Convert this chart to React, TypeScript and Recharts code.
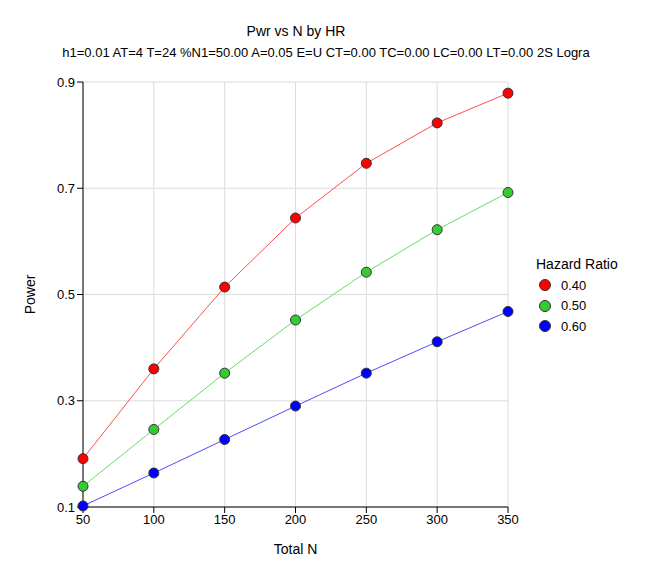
import {
  LineChart,
  Line,
  XAxis,
  YAxis,
  CartesianGrid,
  Legend,
  Label,
} from "recharts";

// #region Power data
const totalN = [50, 100, 150, 200, 250, 300, 350];
const hr040 = [0.191, 0.36, 0.514, 0.644, 0.747, 0.823, 0.879];
const hr050 = [0.139, 0.246, 0.352, 0.452, 0.542, 0.622, 0.692];
const hr060 = [0.102, 0.164, 0.227, 0.29, 0.352, 0.411, 0.468];
const xTicks = [50, 100, 150, 200, 250, 300, 350];
const yTicks = [0.1, 0.3, 0.5, 0.7, 0.9];
// #endregion

const data = totalN.map((n, i) => ({
  n,
  "0.40": hr040[i],
  "0.50": hr050[i],
  "0.60": hr060[i],
}));

const series = [
  { key: "0.40", line: "#ff4d4d", fill: "#ff0000" },
  { key: "0.50", line: "#66dd66", fill: "#33cc33" },
  { key: "0.60", line: "#4d4dff", fill: "#0000ff" },
];

const font = "Arial, 'Liberation Sans', sans-serif";

const renderLegend = () => (
  <div style={{ fontFamily: font, color: "#000" }}>
    <div style={{ fontSize: 14, marginBottom: 3 }}>Hazard Ratio</div>
    {series.map((s) => (
      <div
        key={s.key}
        style={{ display: "flex", alignItems: "center", height: 20.5, fontSize: 13 }}
      >
        <span
          style={{
            display: "inline-block",
            width: 10,
            height: 10,
            borderRadius: "50%",
            background: s.fill,
            border: "1px solid #333",
            marginLeft: 3,
            marginRight: 10,
          }}
        />
        {s.key}
      </div>
    ))}
  </div>
);

const App = () => {
  return (
    <div
      style={{
        position: "relative",
        margin: -8,
        width: 667,
        height: 575,
        background: "#f0f0f0",
        fontFamily: font,
      }}
    >
      <div
        style={{
          position: "absolute",
          left: 6,
          top: 4,
          right: 0,
          bottom: 0,
          background: "#fff",
        }}
      />
      <div
        style={{
          position: "absolute",
          top: 23,
          left: 0,
          width: 592,
          textAlign: "center",
          fontSize: 14,
        }}
      >
        Pwr vs N by HR
      </div>
      <div
        style={{
          position: "absolute",
          top: 45,
          left: 0,
          width: 652,
          textAlign: "center",
          fontSize: 13,
          whiteSpace: "nowrap",
        }}
      >
        h1=0.01 AT=4 T=24 %N1=50.00 A=0.05 E=U CT=0.00 TC=0.00 LC=0.00 LT=0.00 2S Logra
      </div>
      <div style={{ position: "absolute", left: 0, top: 0 }}>
        <LineChart
          width={667}
          height={575}
          data={data}
          margin={{ top: 82, right: 39, left: 0, bottom: 0 }}
        >
          <CartesianGrid stroke='#dcdcdc' />
          <XAxis
            dataKey='n'
            type='number'
            domain={[50, 350]}
            ticks={xTicks}
            height={68}
            stroke='#000'
            tickLine={{ stroke: "#000" }}
            tickSize={6}
            tick={{ fill: "#000", fontSize: 13, fontFamily: font }}
          >
            <Label
              value='Total N'
              position='insideTop'
              offset={37}
              style={{ fill: "#000", fontSize: 14, fontFamily: font }}
            />
          </XAxis>
          <YAxis
            type='number'
            domain={[0.1, 0.9]}
            ticks={yTicks}
            width={83}
            stroke='#000'
            tickSize={6}
            tickFormatter={(v) => `${v}`}
            tick={{ fill: "#000", fontSize: 13, fontFamily: font }}
          >
            <Label
              value='Power'
              angle={-90}
              position='insideLeft'
              offset={30}
              style={{ fill: "#000", fontSize: 14, fontFamily: font, textAnchor: "middle" }}
            />
          </YAxis>
          <Legend
            layout='vertical'
            align='right'
            verticalAlign='top'
            content={renderLegend}
            wrapperStyle={{ left: 536, top: 256, width: 120 }}
          />
          {series.map((s) => (
            <Line
              key={s.key}
              dataKey={s.key}
              stroke={s.line}
              strokeWidth={1}
              dot={{ r: 5, fill: s.fill, stroke: "#333", strokeWidth: 1 }}
              isAnimationActive={false}
            />
          ))}
        </LineChart>
      </div>
    </div>
  );
};

export default App;
